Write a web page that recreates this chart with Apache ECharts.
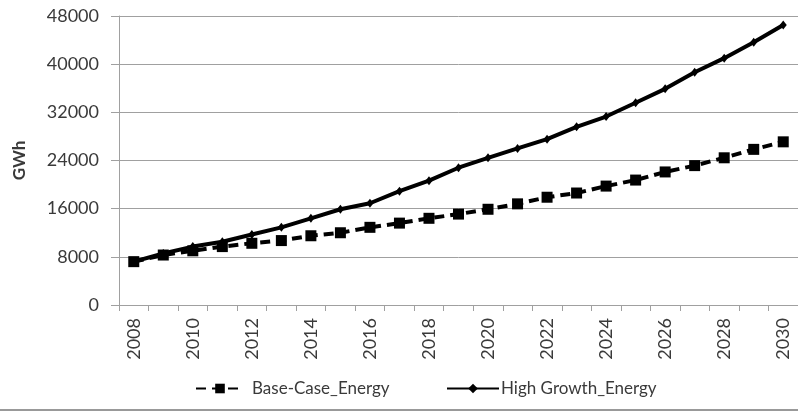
<!DOCTYPE html>
<html>
<head>
<meta charset="utf-8">
<script src="https://cdn.jsdelivr.net/npm/echarts@6/dist/echarts.min.js"></script>
<style>
  html, body { margin: 0; padding: 0; background: #fff; }
  #chart { width: 798px; height: 412px; }
</style>
</head>
<body>
<div id="chart"></div>
<script>
// Annual energy forecast, GWh
const years = ['2008', '2009', '2010', '2011', '2012', '2013', '2014', '2015', '2016', '2017', '2018', '2019',
               '2020', '2021', '2022', '2023', '2024', '2025', '2026', '2027', '2028', '2029', '2030'];
const baseCaseEnergy = [7200, 8300, 9000, 9700, 10250, 10700, 11500, 12000, 12900, 13600, 14400, 15100,
                        15900, 16800, 17900, 18600, 19750, 20750, 22100, 23150, 24450, 25850, 27100];
const highGrowthEnergy = [7200, 8550, 9700, 10500, 11700, 12900, 14400, 15900, 16900, 18900, 20650, 22800,
                          24450, 26000, 27550, 29600, 31300, 33600, 35900, 38650, 41000, 43650, 46500];
const yTicks = { min: 0, max: 48000, step: 8000 };

const FONT = 'Lato';
const TEXT = '#3a3a3a';
const GRIDC = '#a0a0a0';

const chart = echarts.init(document.getElementById('chart'), null, { renderer: 'canvas' });
chart.setOption({
  animation: false,
  backgroundColor: '#fff',
  grid: { left: 119, right: -3, top: 16, bottom: 107, containLabel: false },
  legend: [
    {
      data: ['Base-Case_Energy'],
      left: 190, top: 375,
      itemWidth: 48, itemHeight: 12, itemGap: 0,
      textStyle: { fontFamily: FONT, fontSize: 17, color: TEXT, padding: [0, 0, 0, 3] }
    },
    {
      data: ['High Growth_Energy'],
      left: 441, top: 375,
      itemWidth: 52, itemHeight: 12, itemGap: 0,
      textStyle: { fontFamily: FONT, fontSize: 17, color: TEXT, padding: [0, 0, 0, -3] }
    }
  ],
  xAxis: {
    type: 'category',
    data: years,
    boundaryGap: true,
    axisLine: { lineStyle: { color: GRIDC, width: 1 } },
    axisTick: { show: true, interval: 0, length: 6, lineStyle: { color: GRIDC } },
    axisLabel: { interval: 1, rotate: 90, margin: 13, fontFamily: FONT, fontSize: 18, color: TEXT }
  },
  yAxis: {
    type: 'value',
    min: yTicks.min, max: yTicks.max, interval: yTicks.step,
    name: 'GWh',
    nameLocation: 'middle',
    nameRotate: 90,
    nameGap: 91,
    nameTextStyle: { fontFamily: FONT, fontSize: 17, fontWeight: 'bold', color: TEXT },
    axisLine: { show: true, lineStyle: { color: GRIDC, width: 1 } },
    axisTick: { show: true, length: 8, lineStyle: { color: GRIDC } },
    axisLabel: { margin: 20, fontFamily: FONT, fontSize: 18, color: TEXT, formatter: v => String(v) },
    splitLine: { show: true, lineStyle: { color: GRIDC, width: 1 } }
  },
  series: [
    {
      name: 'High Growth_Energy',
      type: 'line',
      data: highGrowthEnergy,
      symbol: 'diamond',
      symbolSize: [7, 9],
      showAllSymbol: true,
      itemStyle: { color: '#000' },
      lineStyle: { color: '#000', width: 4 },
      z: 2
    },
    {
      name: 'Base-Case_Energy',
      type: 'line',
      data: baseCaseEnergy,
      symbol: 'rect',
      symbolSize: 11,
      showAllSymbol: true,
      itemStyle: { color: '#000' },
      lineStyle: { color: '#000', width: 4, type: [10, 6] },
      z: 3
    }
  ],
  graphic: [
    {
      type: 'line',
      shape: { x1: 0, y1: 410, x2: 798, y2: 410 },
      style: { stroke: '#999', lineWidth: 2 },
      silent: true
    }
  ]
});
</script>
</body>
</html>
